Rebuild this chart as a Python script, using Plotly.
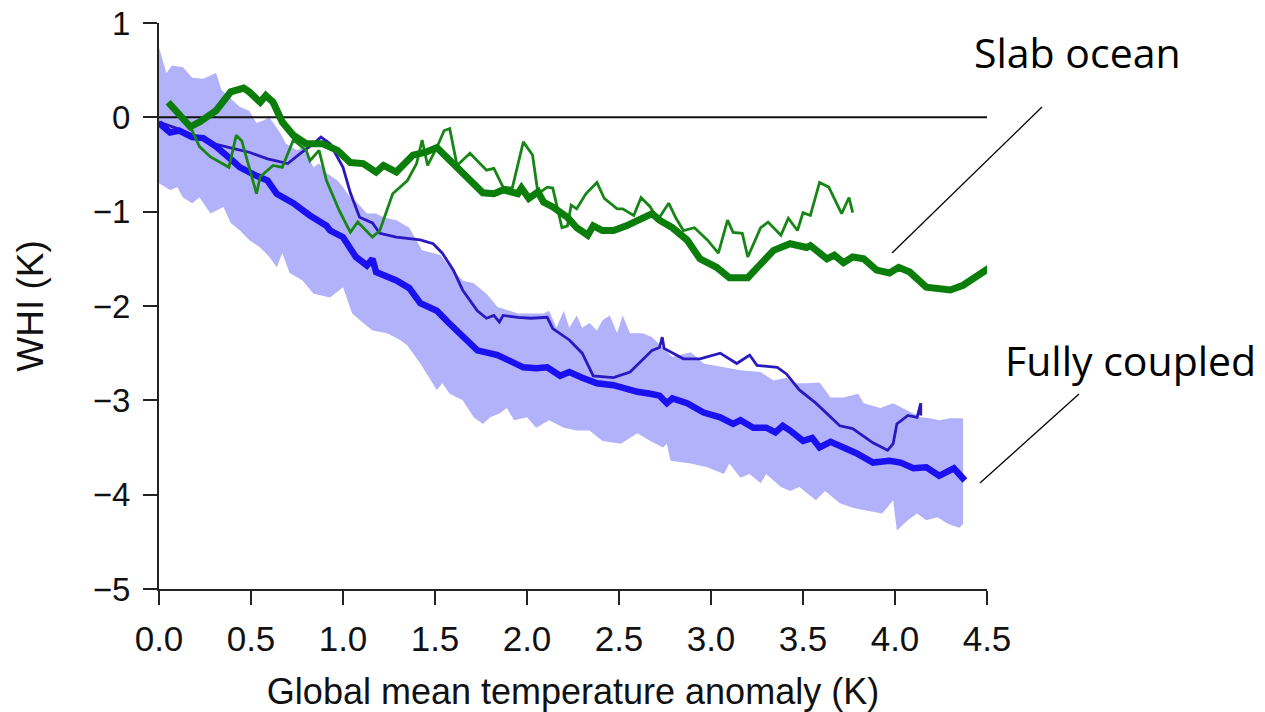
import plotly.graph_objects as go

# ---------------- data ----------------
slab_mean_x = [0.05,0.17,0.22,0.31,0.39,0.46,0.49,0.55,0.58,0.62,0.67,0.73,0.80,0.89,0.97,1.04,1.11,1.18,1.22,1.29,
               1.38,1.45,1.51,1.58,1.67,1.76,1.82,1.87,1.95,1.97,2.01,2.06,2.09,2.14,2.22,2.27,2.33,2.36,2.41,2.47,
               2.54,2.61,2.68,2.72,2.79,2.87,2.94,3.03,3.10,3.20,3.27,3.34,3.43,3.52,3.54,3.63,3.67,3.72,3.77,3.83,
               3.90,3.97,4.02,4.08,4.17,4.24,4.30,4.37,4.45,4.51]
slab_mean_y = [0.16,-0.10,-0.05,0.07,0.27,0.31,0.27,0.16,0.23,0.16,-0.05,-0.19,-0.28,-0.28,-0.35,-0.48,-0.49,-0.58,-0.51,-0.58,
               -0.40,-0.37,-0.32,-0.46,-0.64,-0.80,-0.81,-0.77,-0.81,-0.75,-0.86,-0.79,-0.90,-0.95,-1.06,-1.17,-1.25,-1.15,-1.20,-1.20,
               -1.15,-1.09,-1.02,-1.09,-1.17,-1.30,-1.50,-1.59,-1.70,-1.70,-1.55,-1.41,-1.34,-1.38,-1.36,-1.50,-1.46,-1.54,-1.48,-1.50,
               -1.62,-1.65,-1.59,-1.64,-1.80,-1.81,-1.83,-1.78,-1.68,-1.60]

slab_member_x = [0.05,0.17,0.22,0.28,0.38,0.42,0.45,0.53,0.55,0.62,0.67,0.73,0.80,0.82,0.87,0.91,0.98,1.04,1.08,1.16,
                 1.20,1.27,1.35,1.40,1.43,1.46,1.51,1.55,1.58,1.62,1.69,1.78,1.82,1.87,1.92,1.98,2.03,2.06,2.11,2.14,
                 2.19,2.22,2.24,2.27,2.32,2.38,2.42,2.49,2.52,2.58,2.62,2.67,2.71,2.77,2.81,2.85,2.91,2.98,3.04,3.09,
                 3.12,3.17,3.20,3.27,3.31,3.38,3.42,3.47,3.50,3.54,3.59,3.64,3.71,3.75,3.77]
slab_member_y = [0.14,-0.10,-0.31,-0.42,-0.53,-0.19,-0.25,-0.81,-0.63,-0.51,-0.53,-0.24,-0.35,-0.46,-0.35,-0.67,-0.99,-1.22,-1.11,-1.27,
                 -1.20,-0.81,-0.67,-0.49,-0.24,-0.51,-0.32,-0.14,-0.12,-0.51,-0.38,-0.56,-0.54,-0.74,-0.75,-0.26,-0.40,-0.81,-0.74,-0.75,
                 -1.17,-1.15,-0.93,-0.97,-0.81,-0.69,-0.86,-0.97,-0.97,-1.04,-0.85,-0.95,-1.09,-0.91,-1.07,-1.20,-1.17,-1.30,-1.44,-1.09,
                 -1.22,-1.23,-1.48,-1.17,-1.11,-1.25,-1.07,-1.20,-1.01,-1.04,-0.69,-0.74,-1.02,-0.85,-1.01]

coupled_mean_x = [0.00,0.06,0.11,0.18,0.24,0.31,0.40,0.44,0.53,0.59,0.64,0.73,0.82,0.91,0.93,1.00,1.07,1.13,1.16,1.18,
                  1.29,1.36,1.42,1.51,1.57,1.65,1.73,1.84,1.91,1.98,2.05,2.11,2.18,2.23,2.30,2.38,2.47,2.52,2.60,2.67,
                  2.72,2.76,2.79,2.87,2.96,3.05,3.12,3.16,3.23,3.30,3.35,3.39,3.43,3.50,3.55,3.59,3.65,3.72,3.79,3.88,
                  3.97,4.03,4.10,4.17,4.24,4.32,4.38]
coupled_mean_y = [-0.06,-0.16,-0.14,-0.21,-0.22,-0.31,-0.46,-0.53,-0.62,-0.67,-0.81,-0.91,-1.04,-1.15,-1.20,-1.27,-1.48,-1.57,-1.50,-1.64,
                  -1.73,-1.81,-1.97,-2.05,-2.17,-2.33,-2.47,-2.52,-2.58,-2.65,-2.66,-2.65,-2.74,-2.70,-2.76,-2.82,-2.84,-2.87,-2.91,-2.93,
                  -2.95,-3.03,-2.98,-3.03,-3.13,-3.18,-3.25,-3.21,-3.29,-3.29,-3.34,-3.27,-3.32,-3.43,-3.40,-3.50,-3.44,-3.50,-3.56,-3.66,
                  -3.64,-3.66,-3.72,-3.71,-3.80,-3.72,-3.85]

coupled_member_x = [0.00,0.10,0.20,0.30,0.40,0.49,0.59,0.70,0.77,0.84,0.88,0.93,1.00,1.04,1.09,1.16,1.20,1.29,1.42,1.49,
                    1.54,1.60,1.65,1.73,1.78,1.82,1.85,1.87,1.95,2.02,2.11,2.14,2.23,2.30,2.36,2.47,2.56,2.63,2.68,2.72,
                    2.735,2.745,2.85,2.94,3.05,3.14,3.21,3.25,3.36,3.41,3.48,3.57,3.70,3.77,3.88,3.96,3.99,4.01,4.07,4.12,
                    4.14,4.14]
coupled_member_y = [-0.05,-0.12,-0.20,-0.28,-0.33,-0.37,-0.44,-0.49,-0.38,-0.28,-0.21,-0.28,-0.53,-0.80,-1.06,-1.12,-1.23,-1.27,-1.30,-1.34,
                    -1.44,-1.62,-1.83,-2.05,-2.13,-2.10,-2.17,-2.10,-2.12,-2.13,-2.12,-2.24,-2.36,-2.50,-2.74,-2.76,-2.70,-2.56,-2.47,-2.44,
                    -2.33,-2.45,-2.56,-2.56,-2.50,-2.61,-2.52,-2.63,-2.65,-2.72,-2.89,-3.03,-3.27,-3.30,-3.45,-3.53,-3.46,-3.25,-3.16,-3.18,
                    -3.03,-3.16]

band_upper_x = [0.00,0.04,0.07,0.13,0.18,0.24,0.31,0.34,0.40,0.44,0.49,0.53,0.57,0.60,0.66,0.69,0.75,0.78,0.84,0.87,
                0.91,0.97,1.00,1.04,1.08,1.13,1.18,1.22,1.29,1.36,1.43,1.53,1.58,1.65,1.71,1.78,1.84,1.95,2.02,2.09,
                2.12,2.16,2.20,2.23,2.27,2.30,2.34,2.38,2.41,2.45,2.49,2.52,2.56,2.63,2.68,2.74,2.79,2.89,2.96,3.07,
                3.16,3.27,3.34,3.41,3.45,3.52,3.59,3.65,3.72,3.80,3.83,3.92,3.99,4.07,4.14,4.19,4.24,4.30,4.37]
band_upper_y = [0.74,0.47,0.55,0.53,0.42,0.41,0.47,0.29,0.18,0.11,0.07,-0.06,-0.03,0.00,-0.17,-0.28,-0.35,-0.32,-0.53,-0.49,
                -0.59,-0.67,-0.74,-0.85,-0.91,-1.02,-1.02,-1.06,-1.09,-1.17,-1.41,-1.46,-1.59,-1.73,-1.76,-1.87,-2.01,-2.08,-2.08,-2.08,
                -2.05,-2.23,-2.05,-2.23,-2.10,-2.23,-2.18,-2.26,-2.15,-2.10,-2.29,-2.10,-2.29,-2.29,-2.33,-2.44,-2.54,-2.49,-2.61,-2.65,
                -2.68,-2.70,-2.79,-2.76,-2.82,-2.82,-2.81,-2.97,-2.97,-2.93,-3.03,-3.08,-3.03,-3.11,-3.18,-3.19,-3.21,-3.19,-3.19]

band_lower_x = [0.00,0.06,0.10,0.13,0.18,0.22,0.28,0.35,0.39,0.44,0.49,0.55,0.60,0.64,0.67,0.71,0.78,0.84,0.93,1.00,
                1.05,1.11,1.16,1.24,1.31,1.35,1.42,1.47,1.51,1.54,1.58,1.65,1.71,1.76,1.80,1.85,1.89,1.93,2.00,2.05,
                2.12,2.20,2.27,2.34,2.41,2.51,2.60,2.67,2.74,2.76,2.78,2.89,2.98,3.07,3.10,3.16,3.21,3.27,3.30,3.38,
                3.43,3.48,3.57,3.62,3.70,3.77,3.85,3.93,3.99,4.01,4.07,4.12,4.17,4.23,4.29,4.35,4.37]
band_lower_y = [-0.70,-0.77,-0.74,-0.85,-0.91,-0.85,-1.02,-0.95,-1.12,-1.20,-1.30,-1.38,-1.48,-1.59,-1.44,-1.65,-1.73,-1.87,-1.91,-1.80,
                -2.08,-2.18,-2.26,-2.29,-2.36,-2.42,-2.61,-2.76,-2.89,-2.82,-2.93,-3.00,-3.18,-3.25,-3.18,-3.14,-3.08,-3.21,-3.18,-3.29,
                -3.21,-3.29,-3.32,-3.32,-3.43,-3.46,-3.35,-3.43,-3.50,-3.46,-3.64,-3.67,-3.71,-3.78,-3.67,-3.82,-3.78,-3.88,-3.78,-3.92,
                -3.96,-3.92,-4.06,-3.96,-4.09,-4.14,-4.17,-4.20,-4.06,-4.38,-4.27,-4.20,-4.27,-4.24,-4.31,-4.35,-4.31]

zero_line_x = [0.0, 4.5]
zero_line_y = [0.0, 0.0]

x_ticks = [0.0, 0.5, 1.0, 1.5, 2.0, 2.5, 3.0, 3.5, 4.0, 4.5]
y_ticks = [1, 0, -1, -2, -3, -4, -5]

# ---------------- figure ----------------
fig = go.Figure()

band_x = band_upper_x + band_lower_x[::-1]
band_y = band_upper_y + band_lower_y[::-1]
fig.add_trace(go.Scatter(x=band_x, y=band_y, fill="toself", mode="lines",
                         fillcolor="rgb(178,178,250)", line=dict(width=0),
                         hoverinfo="skip", showlegend=False))

fig.add_trace(go.Scatter(x=zero_line_x, y=zero_line_y, mode="lines",
                         line=dict(color="#111111", width=2), showlegend=False))

fig.add_trace(go.Scatter(x=coupled_member_x, y=coupled_member_y, mode="lines",
                         line=dict(color="#2a18c0", width=2.8), showlegend=False))
fig.add_trace(go.Scatter(x=coupled_mean_x, y=coupled_mean_y, mode="lines",
                         line=dict(color="#1a10f0", width=6.5), showlegend=False))
fig.add_trace(go.Scatter(x=slab_member_x, y=slab_member_y, mode="lines",
                         line=dict(color="#178617", width=2.8), showlegend=False))
fig.add_trace(go.Scatter(x=slab_mean_x, y=slab_mean_y, mode="lines",
                         line=dict(color="#0a7d0a", width=7), showlegend=False))

axis_font = "Liberation Sans, Arial, sans-serif"

fig.update_layout(
    width=1265, height=712,
    margin=dict(l=159, r=278, t=23, b=123, autoexpand=False),
    paper_bgcolor="white", plot_bgcolor="white",
    showlegend=False,
    xaxis=dict(range=[0, 4.5], tickvals=x_ticks, ticktext=[f"{v:.1f}" for v in x_ticks],
               showgrid=False, zeroline=False, showline=True, linecolor="#222222", linewidth=2,
               ticks="outside", ticklen=14, tickwidth=2, tickcolor="#222222",
               tickfont=dict(family=axis_font, size=35, color="#111111"),
               ticklabelstandoff=4,
               title=dict(text="Global mean temperature anomaly (K)", standoff=24,
                          font=dict(family=axis_font, size=36, color="#111111"))),
    yaxis=dict(range=[-5, 1], tickvals=y_ticks, ticktext=[("−" + str(abs(v))) if v < 0 else str(v) for v in y_ticks],
               showgrid=False, zeroline=False, showline=True, linecolor="#222222", linewidth=2,
               ticks="outside", ticklen=14, tickwidth=2, tickcolor="#222222",
               tickfont=dict(family=axis_font, size=33, color="#111111"),
               ticklabelstandoff=6,
               title=dict(text="WHI (K)", standoff=38,
                          font=dict(family=axis_font, size=37, color="#111111"))),
    shapes=[
        dict(type="line", xref="paper", yref="paper", x0=1.0664, y0=0.8516, x1=0.8853, y1=0.5936,
             line=dict(color="black", width=1.3)),
        dict(type="line", xref="paper", yref="paper", x0=1.1111, y0=0.3445, x1=0.9915, y1=0.1873,
             line=dict(color="black", width=1.3)),
    ],
    annotations=[
        dict(text="Slab ocean", xref="paper", yref="paper", x=1.1087, y=0.9488,
             xanchor="center", yanchor="middle", showarrow=False,
             font=dict(family="Open Sans, sans-serif", size=41, color="black")),
        dict(text="Fully coupled", xref="paper", yref="paper", x=1.1739, y=0.4046,
             xanchor="center", yanchor="middle", showarrow=False,
             font=dict(family="Open Sans, sans-serif", size=41, color="black")),
    ],
)

fig.write_html("out.html")
